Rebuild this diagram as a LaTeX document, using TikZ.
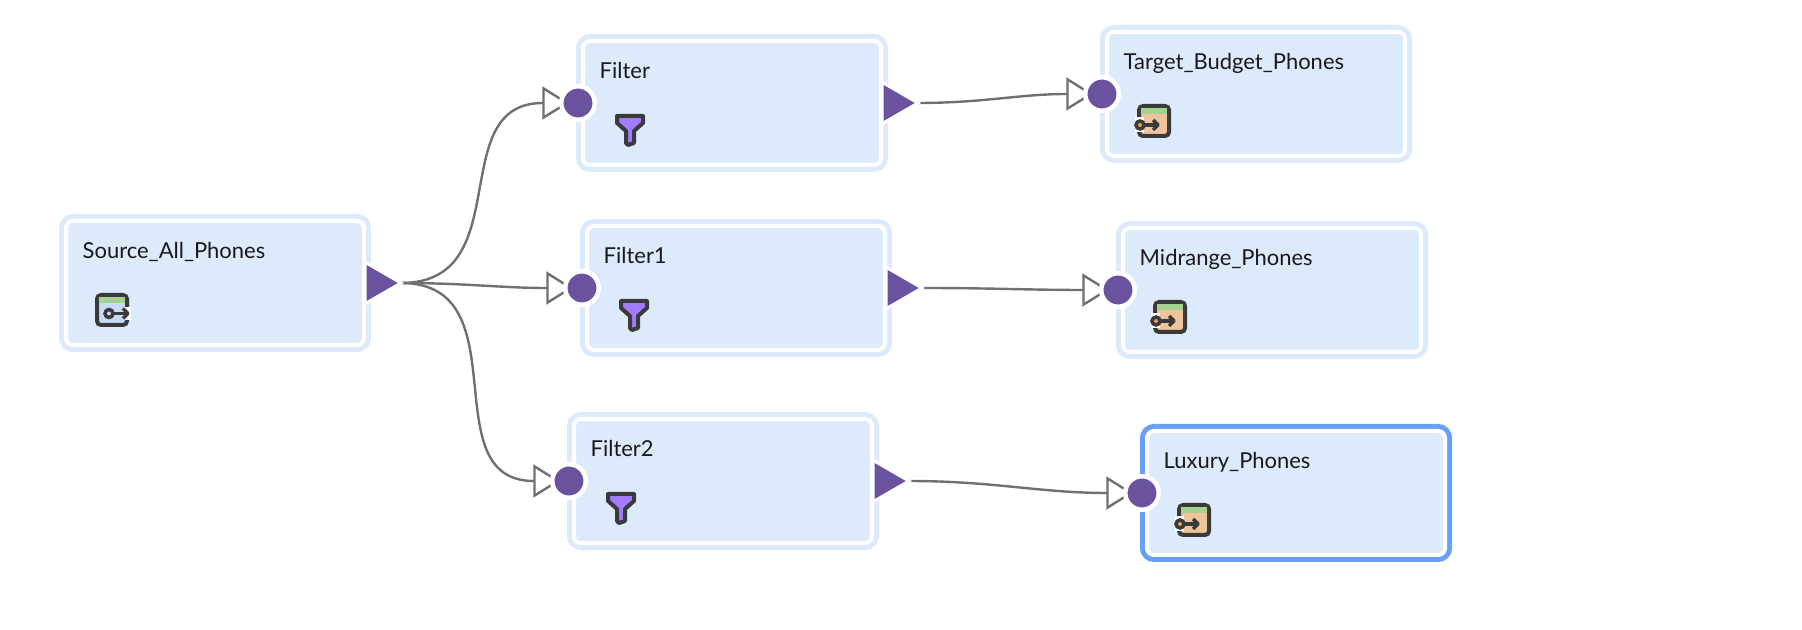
\documentclass[tikz,border=0pt]{standalone}
\usepackage{fontspec}
\setmainfont{Lato}
\usetikzlibrary{arrows.meta,shapes.geometric,backgrounds}
\definecolor{boxFill}{HTML}{DDEAFC}
\definecolor{boxLine}{HTML}{DDEAFC}
\definecolor{selectLine}{HTML}{6A9EFB}
\definecolor{portColor}{HTML}{6B529E}
\definecolor{linkColor}{HTML}{707070}
\definecolor{iconLine}{HTML}{3A3A3A}
\definecolor{funnelFill}{HTML}{A27CFF}
\definecolor{bandFill}{HTML}{A4D28F}
\definecolor{sourceFill}{HTML}{C9DAF8}
\definecolor{targetFill}{HTML}{F0C49B}
\definecolor{keyFill}{HTML}{F0A050}
\tikzset{
	block/.style={rectangle, draw=white, line width=0.04cm, preaction={draw=#1, line width=0.14cm},
		fill=boxFill, rounded corners=0.07cm, minimum width=2.98cm, minimum height=1.24cm, outer sep=0.05cm},
	block/.default=boxLine,
	title/.style={anchor=base west, inner sep=0pt, font=\fontsize{6.25pt}{7pt}\selectfont, text=black!90},
	inPort/.style={circle, fill=portColor, draw=white, line width=0.045cm, minimum size=0.335cm, inner sep=0pt, outer sep=0pt},
	outPort/.style={isosceles triangle, isosceles triangle apex angle=60, anchor=lower side, xshift=-0.04cm, fill=portColor,
		draw=white, line width=0.03cm, minimum height=0.36cm, inner sep=0pt, outer sep=0pt},
	link/.style={draw=linkColor, line width=0.024cm, shorten >=-0.08cm,
		-{Triangle[open, length=0.27cm, width=0.33cm, fill=white]}},
	pics/filterIcon/.style={code={
		\draw[iconLine, fill=funnelFill, line width=0.04cm, line join=round]
			(-0.13,0.14) -- (0.13,0.14) -- (0.13,0.07) -- (0.04,-0.01) -- (0.04,-0.13) -- (-0.02,-0.15) -- (-0.04,-0.13) -- (-0.04,-0.01) -- (-0.13,0.07) -- cycle;
	}},
	pics/sourceIcon/.style={code={
		\draw[iconLine, fill=sourceFill, line width=0.04cm, rounded corners=0.04cm] (-0.15,-0.15) rectangle (0.15,0.15);
		\fill[bandFill] (-0.13,0.13) rectangle (0.13,0.07);
		\draw[white, line width=0.13cm] (0.12,-0.035) -- (0.19,-0.035);
		\draw[iconLine, line width=0.035cm] (0.0,-0.035) -- (0.16,-0.035);
		\draw[iconLine, line width=0.035cm, line join=round] (0.11,0.015) -- (0.16,-0.035) -- (0.11,-0.085);
		\draw[iconLine, fill=sourceFill, line width=0.035cm] (-0.03,-0.035) circle (0.04cm);
	}},
	pics/targetIcon/.style={code={
		\draw[iconLine, fill=targetFill, line width=0.04cm, rounded corners=0.04cm] (-0.15,-0.15) rectangle (0.15,0.15);
		\fill[bandFill] (-0.13,0.13) rectangle (0.13,0.07);
		\draw[white, line width=0.15cm] (-0.19,-0.04) -- (-0.1,-0.04);
		\draw[iconLine, line width=0.035cm] (-0.1,-0.04) -- (0.04,-0.04);
		\draw[iconLine, line width=0.035cm, line join=round] (-0.01,0.01) -- (0.04,-0.04) -- (-0.01,-0.09);
		\draw[iconLine, fill=keyFill, line width=0.035cm] (-0.14,-0.04) circle (0.04cm);
	}},
}
\begin{document}
\begin{tikzpicture}
	\useasboundingbox (0,0) rectangle (18.02,-6.30);
	
	%Blocks
	\node (sourcePhones) at (2.15,-2.83) [block] {};
	\node (filterTop) at (7.32,-1.03) [block] {};
	\node (filterMid) at (7.36,-2.88) [block] {};
	\node (filterLow) at (7.23,-4.81) [block] {};
	\node (targetBudget) at (12.56,-0.94) [block] {};
	\node (targetMid) at (12.72,-2.90) [block] {};
	\node (targetLuxury) at (12.96,-4.93) [block=selectLine] {};
	
	%Titles
	\node (sourceTitle) at ([xshift=0.21cm,yshift=-0.43cm]sourcePhones.north west) [title] {Source\_All\_Phones};
	\node (filterTopTitle) at ([xshift=0.21cm,yshift=-0.43cm]filterTop.north west) [title] {Filter};
	\node (filterMidTitle) at ([xshift=0.21cm,yshift=-0.43cm]filterMid.north west) [title] {Filter1};
	\node (filterLowTitle) at ([xshift=0.21cm,yshift=-0.43cm]filterLow.north west) [title] {Filter2};
	\node (budgetTitle) at ([xshift=0.21cm,yshift=-0.43cm]targetBudget.north west) [title] {Target\_Budget\_Phones};
	\node (midTitle) at ([xshift=0.21cm,yshift=-0.43cm]targetMid.north west) [title] {Midrange\_Phones};
	\node (luxuryTitle) at ([xshift=0.21cm,yshift=-0.43cm]targetLuxury.north west) [title] {Luxury\_Phones};
	
	%Icons
	\pic at ([xshift=0.51cm,yshift=-0.94cm]sourcePhones.north west) {sourceIcon};
	\pic at ([xshift=0.52cm,yshift=-0.94cm]filterTop.north west) {filterIcon};
	\pic at ([xshift=0.52cm,yshift=-0.94cm]filterMid.north west) {filterIcon};
	\pic at ([xshift=0.52cm,yshift=-0.94cm]filterLow.north west) {filterIcon};
	\pic at ([xshift=0.52cm,yshift=-0.94cm]targetBudget.north west) {targetIcon};
	\pic at ([xshift=0.52cm,yshift=-0.94cm]targetMid.north west) {targetIcon};
	\pic at ([xshift=0.52cm,yshift=-0.94cm]targetLuxury.north west) {targetIcon};
	
	%Ports
	\node (sourceOut) at (sourcePhones.east) [outPort] {};
	\node (filterTopIn) at (filterTop.west) [inPort] {};
	\node (filterTopOut) at (filterTop.east) [outPort] {};
	\node (filterMidIn) at (filterMid.west) [inPort] {};
	\node (filterMidOut) at (filterMid.east) [outPort] {};
	\node (filterLowIn) at (filterLow.west) [inPort] {};
	\node (filterLowOut) at (filterLow.east) [outPort] {};
	\node (budgetIn) at (targetBudget.west) [inPort] {};
	\node (midIn) at (targetMid.west) [inPort] {};
	\node (luxuryIn) at (targetLuxury.west) [inPort] {};
	
	%Links
	\begin{scope}[on background layer]
		\draw [link] (sourceOut.apex) to[out=0,in=180,looseness=1.25] (filterTopIn.west);
		\draw [link] (sourceOut.apex) to[out=0,in=180] (filterMidIn.west);
		\draw [link] (sourceOut.apex) to[out=0,in=180,looseness=1.25] (filterLowIn.west);
		\draw [link] (filterTopOut.apex) to[out=0,in=180] (budgetIn.west);
		\draw [link] (filterMidOut.apex) to[out=0,in=180] (midIn.west);
		\draw [link] (filterLowOut.apex) to[out=0,in=180] (luxuryIn.west);
	\end{scope}
	
\end{tikzpicture}
\end{document}
